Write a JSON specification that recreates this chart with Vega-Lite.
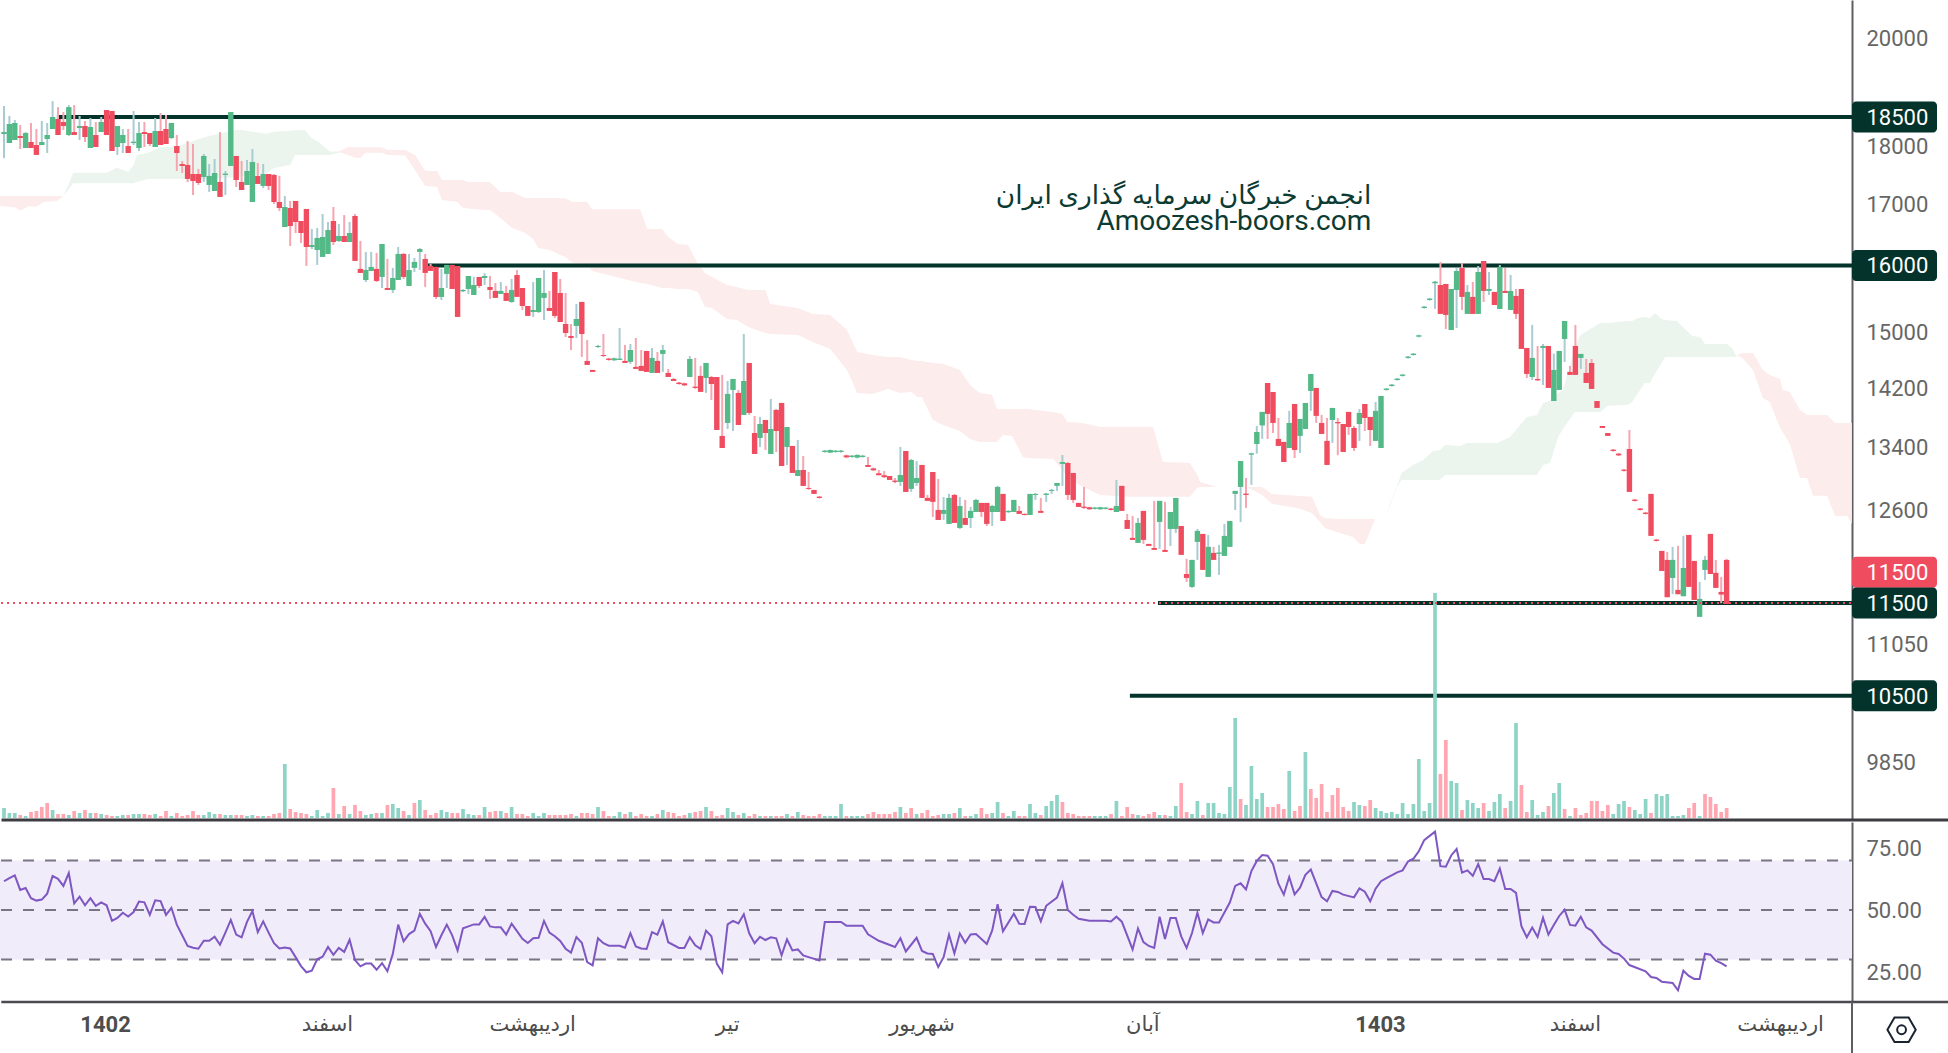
{"$schema":"https://vega.github.io/schema/vega-lite/v6.json","padding":{"left":-1,"top":0,"right":0,"bottom":0},"autosize":{"type":"pad"},"background":"#ffffff","config":{"view":{"stroke":null},"font":"Roboto"},"spacing":-1.5,"datasets":{
"candles":[
{"i":0,"o":18195,"h":18700,"l":17770,"c":18230,"v":10},{"i":1,"o":18035,"h":18518,"l":18035,"c":18374,"v":5},{"i":2,"o":18088,"h":18446,"l":18088,"c":18392,"v":5},{"i":3,"o":18159,"h":18356,"l":17930,"c":18124,"v":3},{"i":4,"o":17947,"h":18230,"l":17947,"c":18212,"v":2},{"i":5,"o":18053,"h":18392,"l":17947,"c":17947,"v":6},{"i":6,"o":18000,"h":18284,"l":17826,"c":17826,"v":7},{"i":7,"o":18000,"h":18428,"l":18000,"c":18053,"v":11},{"i":8,"o":18106,"h":18392,"l":17860,"c":18177,"v":15},{"i":9,"o":18284,"h":18790,"l":18284,"c":18500,"v":8},
{"i":10,"o":18464,"h":18680,"l":18177,"c":18177,"v":4},{"i":11,"o":18410,"h":18590,"l":18266,"c":18338,"v":4},{"i":12,"o":18177,"h":18718,"l":18159,"c":18680,"v":3},{"i":13,"o":18230,"h":18718,"l":18177,"c":18177,"v":7},{"i":14,"o":18302,"h":18518,"l":18088,"c":18338,"v":5},{"i":15,"o":18338,"h":18428,"l":18053,"c":18141,"v":8},{"i":16,"o":17947,"h":18482,"l":17947,"c":18320,"v":5},{"i":17,"o":18177,"h":18410,"l":17965,"c":17965,"v":5},{"i":18,"o":18230,"h":18500,"l":18230,"c":18410,"v":4},{"i":19,"o":18627,"h":18627,"l":18177,"c":18177,"v":3},
{"i":20,"o":18609,"h":18609,"l":17895,"c":17895,"v":2},{"i":21,"o":17965,"h":18338,"l":17826,"c":18338,"v":2},{"i":22,"o":18035,"h":18284,"l":17860,"c":18177,"v":3},{"i":23,"o":17982,"h":18284,"l":17860,"c":17860,"v":3},{"i":24,"o":18035,"h":18609,"l":18000,"c":18059,"v":4},{"i":25,"o":17947,"h":18410,"l":17895,"c":18212,"v":4},{"i":26,"o":18230,"h":18410,"l":17965,"c":18195,"v":4},{"i":27,"o":18212,"h":18212,"l":17982,"c":18018,"v":3},{"i":28,"o":17965,"h":18482,"l":17965,"c":18248,"v":4},{"i":29,"o":18248,"h":18572,"l":18000,"c":18000,"v":2},
{"i":30,"o":18284,"h":18536,"l":18018,"c":18018,"v":7},{"i":31,"o":18124,"h":18392,"l":18106,"c":18392,"v":2},{"i":32,"o":17982,"h":18177,"l":17548,"c":17860,"v":5},{"i":33,"o":17669,"h":17721,"l":17514,"c":17635,"v":2},{"i":34,"o":17652,"h":18070,"l":17361,"c":17412,"v":3},{"i":35,"o":17497,"h":18018,"l":17141,"c":17377,"v":7},{"i":36,"o":17497,"h":17583,"l":17310,"c":17344,"v":3},{"i":37,"o":17446,"h":17843,"l":17361,"c":17808,"v":3},{"i":38,"o":17310,"h":17669,"l":17192,"c":17463,"v":6},{"i":39,"o":17208,"h":17756,"l":17208,"c":17514,"v":4},
{"i":40,"o":17361,"h":18230,"l":17108,"c":17108,"v":4},{"i":41,"o":17480,"h":17548,"l":17141,"c":17503,"v":3},{"i":42,"o":17635,"h":18590,"l":17635,"c":18590,"v":3},{"i":43,"o":17808,"h":17808,"l":17276,"c":17394,"v":3},{"i":44,"o":17361,"h":17721,"l":17225,"c":17225,"v":3},{"i":45,"o":17310,"h":17738,"l":17310,"c":17548,"v":2},{"i":46,"o":17024,"h":17930,"l":17024,"c":17704,"v":3},{"i":47,"o":17463,"h":17686,"l":17327,"c":17327,"v":2},{"i":48,"o":17293,"h":17669,"l":17259,"c":17497,"v":2},{"i":49,"o":17497,"h":17497,"l":17225,"c":17293,"v":2},
{"i":50,"o":17480,"h":17497,"l":16991,"c":17024,"v":4},{"i":51,"o":17024,"h":17463,"l":16875,"c":16924,"v":5},{"i":52,"o":16612,"h":17125,"l":16612,"c":16941,"v":54},{"i":53,"o":16924,"h":17041,"l":16306,"c":16628,"v":9},{"i":54,"o":17041,"h":17041,"l":16515,"c":16694,"v":6},{"i":55,"o":16710,"h":16710,"l":16354,"c":16515,"v":5},{"i":56,"o":16908,"h":16908,"l":15992,"c":16290,"v":4},{"i":57,"o":16290,"h":16579,"l":16258,"c":16322,"v":2},{"i":58,"o":16243,"h":16596,"l":16007,"c":16435,"v":8},{"i":59,"o":16133,"h":16825,"l":16133,"c":16451,"v":2},
{"i":60,"o":16180,"h":16694,"l":16180,"c":16564,"v":5},{"i":61,"o":16710,"h":16941,"l":16322,"c":16370,"v":30},{"i":62,"o":16386,"h":16661,"l":16370,"c":16467,"v":4},{"i":63,"o":16467,"h":16808,"l":16370,"c":16370,"v":12},{"i":64,"o":16370,"h":16694,"l":16370,"c":16515,"v":4},{"i":65,"o":16792,"h":16825,"l":16070,"c":16070,"v":13},{"i":66,"o":15945,"h":16386,"l":15882,"c":15882,"v":7},{"i":67,"o":15773,"h":16212,"l":15742,"c":15928,"v":3},{"i":68,"o":15913,"h":16212,"l":15913,"c":15976,"v":4},{"i":69,"o":15945,"h":16196,"l":15742,"c":15758,"v":5},
{"i":70,"o":15820,"h":16338,"l":15650,"c":16338,"v":5},{"i":71,"o":15650,"h":16101,"l":15620,"c":15620,"v":13},{"i":72,"o":15620,"h":15961,"l":15574,"c":15804,"v":14},{"i":73,"o":15773,"h":16290,"l":15773,"c":16180,"v":10},{"i":74,"o":16180,"h":16196,"l":15788,"c":15820,"v":7},{"i":75,"o":15681,"h":16180,"l":15681,"c":15928,"v":3},{"i":76,"o":15961,"h":16117,"l":15898,"c":16054,"v":15},{"i":77,"o":16212,"h":16274,"l":15928,"c":16258,"v":18},{"i":78,"o":16101,"h":16180,"l":15666,"c":15882,"v":8},{"i":79,"o":15992,"h":16023,"l":15913,"c":15913,"v":3},
{"i":80,"o":15976,"h":15976,"l":15483,"c":15513,"v":5},{"i":81,"o":15513,"h":15945,"l":15468,"c":15650,"v":8},{"i":82,"o":15867,"h":16007,"l":15650,"c":16007,"v":6},{"i":83,"o":16007,"h":16007,"l":15635,"c":15635,"v":5},{"i":84,"o":15990,"h":15990,"l":15213,"c":15213,"v":5},{"i":85,"o":15600,"h":15630,"l":15590,"c":15620,"v":9},{"i":86,"o":15635,"h":15835,"l":15557,"c":15835,"v":4},{"i":87,"o":15543,"h":15820,"l":15543,"c":15696,"v":3},{"i":88,"o":15820,"h":15820,"l":15650,"c":15680,"v":3},{"i":89,"o":15804,"h":15880,"l":15696,"c":15835,"v":11},
{"i":90,"o":15665,"h":15835,"l":15484,"c":15620,"v":6},{"i":91,"o":15605,"h":15727,"l":15499,"c":15499,"v":7},{"i":92,"o":15559,"h":15742,"l":15559,"c":15605,"v":7},{"i":93,"o":15574,"h":15680,"l":15453,"c":15453,"v":5},{"i":94,"o":15438,"h":15789,"l":15423,"c":15620,"v":11},{"i":95,"o":15850,"h":15928,"l":15514,"c":15514,"v":4},{"i":96,"o":15650,"h":15650,"l":15317,"c":15377,"v":4},{"i":97,"o":15377,"h":15377,"l":15228,"c":15228,"v":2},{"i":98,"o":15287,"h":15742,"l":15213,"c":15317,"v":5},{"i":99,"o":15287,"h":15804,"l":15272,"c":15804,"v":2},
{"i":100,"o":15499,"h":15928,"l":15168,"c":15574,"v":5},{"i":101,"o":15347,"h":15605,"l":15302,"c":15302,"v":3},{"i":102,"o":15897,"h":15897,"l":15198,"c":15228,"v":3},{"i":103,"o":15574,"h":15789,"l":15138,"c":15138,"v":3},{"i":104,"o":15109,"h":15574,"l":14917,"c":14976,"v":3},{"i":105,"o":14932,"h":15109,"l":14729,"c":14903,"v":4},{"i":106,"o":15079,"h":15407,"l":14903,"c":15183,"v":2},{"i":107,"o":15438,"h":15438,"l":14629,"c":14961,"v":5},{"i":108,"o":14572,"h":14874,"l":14515,"c":14515,"v":5},{"i":109,"o":14444,"h":14444,"l":14416,"c":14416,"v":4},
{"i":110,"o":14772,"h":14802,"l":14758,"c":14787,"v":11},{"i":111,"o":14657,"h":14961,"l":14629,"c":14643,"v":7},{"i":112,"o":14605,"h":14615,"l":14576,"c":14586,"v":2},{"i":113,"o":14581,"h":14620,"l":14572,"c":14610,"v":2},{"i":114,"o":14586,"h":15049,"l":14586,"c":14605,"v":6},{"i":115,"o":14572,"h":14802,"l":14543,"c":14543,"v":4},{"i":116,"o":14558,"h":14816,"l":14529,"c":14729,"v":6},{"i":117,"o":14487,"h":14903,"l":14458,"c":14458,"v":2},{"i":118,"o":14501,"h":14729,"l":14430,"c":14430,"v":4},{"i":119,"o":14715,"h":14715,"l":14416,"c":14416,"v":2},
{"i":120,"o":14402,"h":14758,"l":14402,"c":14615,"v":2},{"i":121,"o":14572,"h":14700,"l":14402,"c":14402,"v":4},{"i":122,"o":14672,"h":14802,"l":14416,"c":14729,"v":8},{"i":123,"o":14402,"h":14458,"l":14345,"c":14345,"v":6},{"i":124,"o":14317,"h":14331,"l":14289,"c":14289,"v":5},{"i":125,"o":14266,"h":14275,"l":14238,"c":14247,"v":2},{"i":126,"o":14256,"h":14266,"l":14219,"c":14228,"v":3},{"i":127,"o":14345,"h":14643,"l":14345,"c":14600,"v":5},{"i":128,"o":14210,"h":14615,"l":14178,"c":14192,"v":6},{"i":129,"o":14360,"h":14501,"l":14137,"c":14137,"v":7},
{"i":130,"o":14331,"h":14543,"l":14123,"c":14543,"v":11},{"i":131,"o":14345,"h":14360,"l":14026,"c":14247,"v":7},{"i":132,"o":14345,"h":14345,"l":13620,"c":13620,"v":2},{"i":133,"o":13541,"h":14374,"l":13382,"c":13382,"v":3},{"i":134,"o":13714,"h":14289,"l":13633,"c":14109,"v":10},{"i":135,"o":14164,"h":14317,"l":13606,"c":14317,"v":6},{"i":136,"o":14123,"h":14164,"l":13687,"c":13687,"v":3},{"i":137,"o":13822,"h":14961,"l":13822,"c":14289,"v":5},{"i":138,"o":14543,"h":14543,"l":13822,"c":13849,"v":2},{"i":139,"o":13580,"h":13808,"l":13304,"c":13304,"v":4},
{"i":140,"o":13514,"h":13795,"l":13396,"c":13700,"v":2},{"i":141,"o":13754,"h":13754,"l":13356,"c":13580,"v":2},{"i":142,"o":13304,"h":14040,"l":13304,"c":13633,"v":2},{"i":143,"o":13890,"h":13903,"l":13330,"c":13606,"v":2},{"i":144,"o":13985,"h":13985,"l":13148,"c":13148,"v":2},{"i":145,"o":13396,"h":13660,"l":13161,"c":13660,"v":4},{"i":146,"o":13409,"h":13409,"l":13059,"c":13059,"v":2},{"i":147,"o":13020,"h":13488,"l":13020,"c":13097,"v":6},{"i":148,"o":13097,"h":13278,"l":12894,"c":12894,"v":3},{"i":149,"o":12869,"h":13072,"l":12844,"c":12857,"v":2},
{"i":150,"o":12844,"h":12844,"l":12794,"c":12794,"v":2},{"i":151,"o":12760,"h":12769,"l":12735,"c":12744,"v":4},{"i":152,"o":13330,"h":13356,"l":13321,"c":13347,"v":2},{"i":153,"o":13321,"h":13362,"l":13315,"c":13356,"v":2},{"i":154,"o":13330,"h":13356,"l":13321,"c":13347,"v":2},{"i":155,"o":13330,"h":13356,"l":13321,"c":13347,"v":14},{"i":156,"o":13286,"h":13295,"l":13250,"c":13260,"v":2},{"i":157,"o":13265,"h":13291,"l":13256,"c":13282,"v":2},{"i":158,"o":13256,"h":13300,"l":13248,"c":13291,"v":2},{"i":159,"o":13265,"h":13291,"l":13256,"c":13282,"v":2},
{"i":160,"o":13161,"h":13265,"l":13136,"c":13136,"v":4},{"i":161,"o":13118,"h":13128,"l":13085,"c":13093,"v":6},{"i":162,"o":13055,"h":13097,"l":13030,"c":13030,"v":4},{"i":163,"o":13030,"h":13085,"l":12997,"c":13005,"v":4},{"i":164,"o":13020,"h":13020,"l":12970,"c":12970,"v":4},{"i":165,"o":12962,"h":12995,"l":12928,"c":12945,"v":6},{"i":166,"o":12945,"h":13396,"l":12894,"c":13033,"v":11},{"i":167,"o":13343,"h":13343,"l":12819,"c":12819,"v":5},{"i":168,"o":12857,"h":13239,"l":12819,"c":13226,"v":10},{"i":169,"o":12932,"h":13213,"l":12895,"c":12995,"v":4},
{"i":170,"o":13162,"h":13162,"l":12744,"c":12744,"v":5},{"i":171,"o":12744,"h":12781,"l":12707,"c":12707,"v":8},{"i":172,"o":13071,"h":13071,"l":12508,"c":12695,"v":2},{"i":173,"o":12595,"h":12983,"l":12472,"c":12472,"v":3},{"i":174,"o":12546,"h":12756,"l":12472,"c":12595,"v":4},{"i":175,"o":12424,"h":12794,"l":12424,"c":12744,"v":4},{"i":176,"o":12781,"h":12794,"l":12436,"c":12436,"v":5},{"i":177,"o":12375,"h":12756,"l":12363,"c":12644,"v":10},{"i":178,"o":12496,"h":12719,"l":12412,"c":12412,"v":2},{"i":179,"o":12496,"h":12632,"l":12375,"c":12583,"v":2},
{"i":180,"o":12570,"h":12732,"l":12570,"c":12719,"v":4},{"i":181,"o":12682,"h":12682,"l":12508,"c":12570,"v":10},{"i":182,"o":12682,"h":12682,"l":12399,"c":12424,"v":4},{"i":183,"o":12570,"h":12657,"l":12399,"c":12644,"v":5},{"i":184,"o":12570,"h":12895,"l":12570,"c":12882,"v":16},{"i":185,"o":12794,"h":12794,"l":12460,"c":12460,"v":5},{"i":186,"o":12567,"h":12591,"l":12559,"c":12583,"v":2},{"i":187,"o":12570,"h":12719,"l":12570,"c":12719,"v":7},{"i":188,"o":12583,"h":12644,"l":12546,"c":12546,"v":2},{"i":189,"o":12546,"h":12552,"l":12527,"c":12533,"v":2},
{"i":190,"o":12533,"h":12794,"l":12533,"c":12794,"v":14},{"i":191,"o":12781,"h":12806,"l":12719,"c":12794,"v":5},{"i":192,"o":12583,"h":12744,"l":12559,"c":12559,"v":3},{"i":193,"o":12781,"h":12806,"l":12695,"c":12798,"v":12},{"i":194,"o":12832,"h":12857,"l":12794,"c":12844,"v":17},{"i":195,"o":12895,"h":12932,"l":12832,"c":12932,"v":23},{"i":196,"o":13175,"h":13291,"l":12895,"c":13200,"v":16},{"i":197,"o":13187,"h":13200,"l":12719,"c":12781,"v":5},{"i":198,"o":13059,"h":13059,"l":12682,"c":12719,"v":4},{"i":199,"o":12682,"h":12682,"l":12632,"c":12632,"v":2},
{"i":200,"o":12636,"h":12882,"l":12608,"c":12620,"v":2},{"i":201,"o":12628,"h":12634,"l":12597,"c":12603,"v":2},{"i":202,"o":12608,"h":12632,"l":12600,"c":12624,"v":2},{"i":203,"o":12603,"h":12634,"l":12597,"c":12628,"v":2},{"i":204,"o":12608,"h":12632,"l":12600,"c":12624,"v":2},{"i":205,"o":12612,"h":12620,"l":12588,"c":12595,"v":4},{"i":206,"o":12570,"h":12970,"l":12570,"c":12644,"v":17},{"i":207,"o":12895,"h":12895,"l":12583,"c":12583,"v":2},{"i":208,"o":12472,"h":12546,"l":12363,"c":12363,"v":11},{"i":209,"o":12255,"h":12521,"l":12231,"c":12231,"v":4},
{"i":210,"o":12195,"h":12496,"l":12195,"c":12436,"v":3},{"i":211,"o":12583,"h":12583,"l":12183,"c":12231,"v":2},{"i":212,"o":12183,"h":12183,"l":12159,"c":12159,"v":4},{"i":213,"o":12135,"h":12707,"l":12112,"c":12112,"v":6},{"i":214,"o":12448,"h":12707,"l":12124,"c":12707,"v":3},{"i":215,"o":12112,"h":12695,"l":12088,"c":12088,"v":3},{"i":216,"o":12363,"h":12570,"l":12159,"c":12570,"v":2},{"i":217,"o":12363,"h":12744,"l":12315,"c":12744,"v":12},{"i":218,"o":12399,"h":12399,"l":12053,"c":12053,"v":35},{"i":219,"o":11830,"h":12006,"l":11738,"c":11784,"v":6},
{"i":220,"o":11681,"h":11994,"l":11670,"c":11994,"v":4},{"i":221,"o":12207,"h":12363,"l":11994,"c":12339,"v":17},{"i":222,"o":12303,"h":12303,"l":11877,"c":11877,"v":3},{"i":223,"o":11796,"h":12291,"l":11796,"c":12148,"v":15},{"i":224,"o":12077,"h":12148,"l":11994,"c":11994,"v":15},{"i":225,"o":12065,"h":12172,"l":11819,"c":12081,"v":5},{"i":226,"o":12041,"h":12424,"l":12041,"c":12279,"v":4},{"i":227,"o":12148,"h":12460,"l":12148,"c":12460,"v":31},{"i":228,"o":12794,"h":12832,"l":12595,"c":12832,"v":100},{"i":229,"o":12882,"h":13213,"l":12448,"c":13213,"v":19},
{"i":230,"o":12798,"h":12995,"l":12620,"c":12781,"v":13},{"i":231,"o":13295,"h":13321,"l":12907,"c":13312,"v":52},{"i":232,"o":13435,"h":13673,"l":13308,"c":13593,"v":19},{"i":233,"o":13681,"h":13863,"l":13501,"c":13863,"v":25},{"i":234,"o":14261,"h":14261,"l":13501,"c":13836,"v":11},{"i":235,"o":14136,"h":14136,"l":13580,"c":13714,"v":11},{"i":236,"o":13501,"h":13781,"l":13409,"c":13409,"v":14},{"i":237,"o":13462,"h":13462,"l":13200,"c":13200,"v":9},{"i":238,"o":13382,"h":13877,"l":13382,"c":13714,"v":47},{"i":239,"o":13971,"h":13971,"l":13252,"c":13356,"v":7},
{"i":240,"o":13541,"h":13768,"l":13317,"c":13768,"v":12},{"i":241,"o":13633,"h":13985,"l":13633,"c":13985,"v":66},{"i":242,"o":14150,"h":14387,"l":13877,"c":14387,"v":29},{"i":243,"o":14192,"h":14192,"l":13714,"c":13809,"v":20},{"i":244,"o":13714,"h":13822,"l":13567,"c":13567,"v":34},{"i":245,"o":13475,"h":13781,"l":13162,"c":13162,"v":6},{"i":246,"o":13754,"h":13917,"l":13449,"c":13917,"v":23},{"i":247,"o":13727,"h":13781,"l":13287,"c":13709,"v":30},{"i":248,"o":13700,"h":13700,"l":13330,"c":13330,"v":11},{"i":249,"o":13863,"h":13863,"l":13554,"c":13660,"v":7},
{"i":250,"o":13647,"h":13673,"l":13343,"c":13382,"v":16},{"i":251,"o":13700,"h":13903,"l":13475,"c":13849,"v":13},{"i":252,"o":13971,"h":13971,"l":13606,"c":13781,"v":12},{"i":253,"o":13795,"h":13795,"l":13409,"c":13620,"v":18},{"i":254,"o":13475,"h":13999,"l":13475,"c":13877,"v":10},{"i":255,"o":13382,"h":14081,"l":13382,"c":14081,"v":7},{"i":256,"o":14164,"h":14192,"l":14155,"c":14183,"v":5},{"i":257,"o":14219,"h":14247,"l":14210,"c":14238,"v":6},{"i":258,"o":14303,"h":14331,"l":14294,"c":14322,"v":4},{"i":259,"o":14360,"h":14388,"l":14351,"c":14379,"v":15},
{"i":260,"o":14615,"h":14643,"l":14605,"c":14634,"v":4},{"i":261,"o":14657,"h":14686,"l":14648,"c":14676,"v":14},{"i":262,"o":14922,"h":14951,"l":14912,"c":14942,"v":59},{"i":263,"o":15347,"h":15377,"l":15337,"c":15367,"v":7},{"i":264,"o":15468,"h":15499,"l":15458,"c":15489,"v":15},{"i":265,"o":15722,"h":15758,"l":15332,"c":15747,"v":225},{"i":266,"o":15696,"h":16054,"l":15258,"c":15258,"v":44},{"i":267,"o":15712,"h":15712,"l":15035,"c":15243,"v":78},{"i":268,"o":15020,"h":15635,"l":15020,"c":15635,"v":37},{"i":269,"o":15620,"h":15959,"l":15050,"c":15912,"v":35},
{"i":270,"o":15959,"h":16037,"l":15317,"c":15514,"v":8},{"i":271,"o":15258,"h":15696,"l":15258,"c":15590,"v":18},{"i":272,"o":15514,"h":15742,"l":15258,"c":15258,"v":15},{"i":273,"o":15258,"h":15990,"l":15258,"c":15897,"v":10},{"i":274,"o":16069,"h":16069,"l":15438,"c":15605,"v":15},{"i":275,"o":15605,"h":15897,"l":15543,"c":15635,"v":7},{"i":276,"o":15590,"h":15590,"l":15392,"c":15392,"v":16},{"i":277,"o":15332,"h":16006,"l":15332,"c":15975,"v":24},{"i":278,"o":15605,"h":15959,"l":15574,"c":15574,"v":10},{"i":279,"o":15317,"h":15850,"l":15317,"c":15605,"v":17},
{"i":280,"o":15529,"h":15635,"l":15183,"c":15258,"v":95},{"i":281,"o":15635,"h":15635,"l":14744,"c":14744,"v":33},{"i":282,"o":14758,"h":14758,"l":14331,"c":14388,"v":6},{"i":283,"o":14345,"h":15094,"l":14303,"c":14615,"v":18},{"i":284,"o":14317,"h":14787,"l":14289,"c":14298,"v":3},{"i":285,"o":14758,"h":14816,"l":14233,"c":14787,"v":6},{"i":286,"o":14787,"h":14787,"l":14192,"c":14192,"v":12},{"i":287,"o":14012,"h":14676,"l":14012,"c":14444,"v":25},{"i":288,"o":14164,"h":14715,"l":14164,"c":14715,"v":35},{"i":289,"o":14888,"h":15153,"l":14557,"c":15153,"v":9},
{"i":290,"o":14416,"h":14501,"l":14374,"c":14374,"v":2},{"i":291,"o":14787,"h":15094,"l":14374,"c":14374,"v":10},{"i":292,"o":14615,"h":14672,"l":14458,"c":14672,"v":3},{"i":293,"o":14402,"h":14600,"l":14261,"c":14261,"v":5},{"i":294,"o":14543,"h":14600,"l":14178,"c":14178,"v":17},{"i":295,"o":14012,"h":14012,"l":13917,"c":13917,"v":17},{"i":296,"o":13673,"h":13673,"l":13647,"c":13647,"v":7},{"i":297,"o":13580,"h":13580,"l":13541,"c":13541,"v":13},{"i":298,"o":13360,"h":13370,"l":13335,"c":13343,"v":4},{"i":299,"o":13308,"h":13318,"l":13278,"c":13286,"v":14},
{"i":300,"o":13101,"h":13110,"l":13077,"c":13085,"v":17},{"i":301,"o":13369,"h":13620,"l":12819,"c":12819,"v":11},{"i":302,"o":12723,"h":12732,"l":12699,"c":12707,"v":8},{"i":303,"o":12612,"h":12620,"l":12587,"c":12595,"v":4},{"i":304,"o":12562,"h":12570,"l":12538,"c":12546,"v":19},{"i":305,"o":12794,"h":12794,"l":12279,"c":12279,"v":5},{"i":306,"o":12235,"h":12243,"l":12211,"c":12219,"v":24},{"i":307,"o":12100,"h":12100,"l":11865,"c":11865,"v":22},{"i":308,"o":11994,"h":12088,"l":11564,"c":11564,"v":24},{"i":309,"o":11784,"h":12148,"l":11598,"c":11994,"v":2},
{"i":310,"o":11647,"h":12160,"l":11598,"c":11598,"v":2},{"i":311,"o":11575,"h":12279,"l":11575,"c":11900,"v":3},{"i":312,"o":12291,"h":12291,"l":11681,"c":11681,"v":10},{"i":313,"o":11982,"h":11982,"l":11533,"c":11533,"v":15},{"i":314,"o":11344,"h":11738,"l":11344,"c":11545,"v":2},{"i":315,"o":11877,"h":12041,"l":11761,"c":11994,"v":24},{"i":316,"o":12303,"h":12303,"l":11830,"c":11830,"v":21},{"i":317,"o":11843,"h":11994,"l":11670,"c":11670,"v":14},{"i":318,"o":11624,"h":11796,"l":11496,"c":11594,"v":6},{"i":319,"o":11994,"h":12006,"l":11488,"c":11488,"v":10}
],
"cloud":[
{"p":1,"k":"r","i":-0.74,"t":17125,"b":16958},{"p":1,"k":"r","i":2,"t":17125,"b":16935},{"p":1,"k":"r","i":3,"t":17125,"b":16880},{"p":1,"k":"r","i":4.5,"t":17125,"b":16947},{"p":1,"k":"r","i":6,"t":17125,"b":16947},{"p":1,"k":"r","i":7.3,"t":17125,"b":17024},{"p":1,"k":"r","i":9.8,"t":17125,"b":17041},{"p":1,"k":"r","i":11,"t":17125,"b":17125},
{"p":2,"k":"g","i":11,"t":17125,"b":17125},{"p":2,"k":"g","i":11.9,"t":17310,"b":17225},{"p":2,"k":"g","i":12.8,"t":17520,"b":17338},{"p":2,"k":"g","i":19,"t":17520,"b":17338},{"p":2,"k":"g","i":20.9,"t":17606,"b":17338},{"p":2,"k":"g","i":23,"t":17531,"b":17338},{"p":2,"k":"g","i":24,"t":17652,"b":17338},{"p":2,"k":"g","i":24.6,"t":17826,"b":17361},{"p":2,"k":"g","i":26.7,"t":17866,"b":17412},{"p":2,"k":"g","i":28.9,"t":17959,"b":17412},{"p":2,"k":"g","i":32,"t":17971,"b":17412},{"p":2,"k":"g","i":35,"t":18070,"b":17412},{"p":2,"k":"g","i":38.1,"t":18165,"b":17412},{"p":2,"k":"g","i":40.3,"t":18207,"b":17424},{"p":2,"k":"g","i":42.5,"t":18266,"b":17441},{"p":2,"k":"g","i":44,"t":18266,"b":17452},{"p":2,"k":"g","i":48.6,"t":18201,"b":17508},{"p":2,"k":"g","i":49.9,"t":18236,"b":17594},{"p":2,"k":"g","i":53,"t":18254,"b":17652},{"p":2,"k":"g","i":53.9,"t":18260,"b":17826},{"p":2,"k":"g","i":55.7,"t":18266,"b":17826},{"p":2,"k":"g","i":57,"t":18118,"b":17826},{"p":2,"k":"g","i":58.2,"t":18059,"b":17826},{"p":2,"k":"g","i":60.4,"t":17884,"b":17826},{"p":2,"k":"g","i":62.8,"t":17884,"b":17884},
{"p":3,"k":"r","i":61.9,"t":17882,"b":17882},{"p":3,"k":"r","i":63.7,"t":17965,"b":17824},{"p":3,"k":"r","i":65,"t":17959,"b":17777},{"p":3,"k":"r","i":66,"t":17959,"b":17777},{"p":3,"k":"r","i":66.9,"t":17959,"b":17864},{"p":3,"k":"r","i":70,"t":17959,"b":17864},{"p":3,"k":"r","i":71,"t":17912,"b":17824},{"p":3,"k":"r","i":74.3,"t":17912,"b":17814},{"p":3,"k":"r","i":76.1,"t":17824,"b":17565},{"p":3,"k":"r","i":78,"t":17548,"b":17291},{"p":3,"k":"r","i":80.2,"t":17548,"b":17274},{"p":3,"k":"r","i":81.1,"t":17394,"b":17057},{"p":3,"k":"r","i":83.9,"t":17394,"b":17024},{"p":3,"k":"r","i":85,"t":17394,"b":16930},{"p":3,"k":"r","i":85.9,"t":17360,"b":16916},{"p":3,"k":"r","i":89.1,"t":17360,"b":16891},{"p":3,"k":"r","i":90,"t":17360,"b":16891},{"p":3,"k":"r","i":91.9,"t":17191,"b":16760},{"p":3,"k":"r","i":94.1,"t":17191,"b":16596},{"p":3,"k":"r","i":96.5,"t":17090,"b":16517},{"p":3,"k":"r","i":98,"t":17090,"b":16419},{"p":3,"k":"r","i":98.9,"t":17090,"b":16275},{"p":3,"k":"r","i":101.1,"t":17090,"b":16243},{"p":3,"k":"r","i":103.9,"t":17085,"b":16132},{"p":3,"k":"r","i":105.4,"t":17024,"b":16038},{"p":3,"k":"r","i":108,"t":17024,"b":16022},{"p":3,"k":"r","i":108.9,"t":16905,"b":15912},{"p":3,"k":"r","i":117.8,"t":16905,"b":15726},{"p":3,"k":"r","i":119.1,"t":16580,"b":15710},{"p":3,"k":"r","i":121.9,"t":16580,"b":15650},{"p":3,"k":"r","i":123,"t":16451,"b":15650},{"p":3,"k":"r","i":124.8,"t":16339,"b":15635},{"p":3,"k":"r","i":126.7,"t":16323,"b":15635},{"p":3,"k":"r","i":128.5,"t":16022,"b":15590},{"p":3,"k":"r","i":129.8,"t":15881,"b":15360},{"p":3,"k":"r","i":131.1,"t":15819,"b":15347},{"p":3,"k":"r","i":133.9,"t":15695,"b":15183},{"p":3,"k":"r","i":135.7,"t":15665,"b":15168},{"p":3,"k":"r","i":137.8,"t":15620,"b":15065},{"p":3,"k":"r","i":141,"t":15620,"b":14976},{"p":3,"k":"r","i":141.9,"t":15408,"b":14961},{"p":3,"k":"r","i":147,"t":15347,"b":14947},{"p":3,"k":"r","i":149.8,"t":15257,"b":14845},{"p":3,"k":"r","i":153,"t":15242,"b":14744},{"p":3,"k":"r","i":156.1,"t":15020,"b":14444},{"p":3,"k":"r","i":158,"t":14700,"b":14123},{"p":3,"k":"r","i":160.9,"t":14657,"b":14109},{"p":3,"k":"r","i":163.7,"t":14629,"b":14178},{"p":3,"k":"r","i":165.9,"t":14629,"b":14123},{"p":3,"k":"r","i":168.1,"t":14586,"b":14137},{"p":3,"k":"r","i":169.1,"t":14572,"b":14068},{"p":3,"k":"r","i":170,"t":14572,"b":14068},{"p":3,"k":"r","i":172,"t":14543,"b":13754},{"p":3,"k":"r","i":173.9,"t":14530,"b":13687},{"p":3,"k":"r","i":177,"t":14444,"b":13607},{"p":3,"k":"r","i":178.9,"t":14234,"b":13501},{"p":3,"k":"r","i":180.7,"t":14123,"b":13461},{"p":3,"k":"r","i":182.96,"t":14096,"b":13461},{"p":3,"k":"r","i":183.9,"t":13904,"b":13461},{"p":3,"k":"r","i":185,"t":13904,"b":13554},{"p":3,"k":"r","i":186.7,"t":13904,"b":13541},{"p":3,"k":"r","i":188.7,"t":13904,"b":13265},{"p":3,"k":"r","i":189.6,"t":13904,"b":13252},{"p":3,"k":"r","i":194.3,"t":13863,"b":13239},{"p":3,"k":"r","i":196,"t":13835,"b":13097},{"p":3,"k":"r","i":196.9,"t":13727,"b":12995},{"p":3,"k":"r","i":199.8,"t":13713,"b":12882},{"p":3,"k":"r","i":203,"t":13660,"b":12781},{"p":3,"k":"r","i":208.5,"t":13660,"b":12757},{"p":3,"k":"r","i":212.8,"t":13660,"b":12757},{"p":3,"k":"r","i":214.6,"t":13200,"b":12757},{"p":3,"k":"r","i":217.8,"t":13194,"b":12757},{"p":3,"k":"r","i":219.6,"t":13187,"b":12757},{"p":3,"k":"r","i":221,"t":13033,"b":12870},{"p":3,"k":"r","i":221.5,"t":12945,"b":12882},{"p":3,"k":"r","i":224.6,"t":12882,"b":12882},
{"p":4,"k":"r","i":230.2,"t":12882,"b":12882},{"p":4,"k":"r","i":233,"t":12882,"b":12781},{"p":4,"k":"r","i":234.8,"t":12794,"b":12670},{"p":4,"k":"r","i":239.4,"t":12770,"b":12620},{"p":4,"k":"r","i":242.2,"t":12757,"b":12558},{"p":4,"k":"r","i":243.7,"t":12533,"b":12448},{"p":4,"k":"r","i":244.6,"t":12496,"b":12375},{"p":4,"k":"r","i":247.4,"t":12484,"b":12315},{"p":4,"k":"r","i":249.8,"t":12484,"b":12267},{"p":4,"k":"r","i":251.1,"t":12484,"b":12183},{"p":4,"k":"r","i":252,"t":12484,"b":12183},{"p":4,"k":"r","i":253.9,"t":12484,"b":12484},
{"p":5,"k":"g","i":253.9,"t":12484,"b":12484},{"p":5,"k":"g","i":255.7,"t":12484,"b":12484},{"p":5,"k":"g","i":256.7,"t":12682,"b":12657},{"p":5,"k":"g","i":257.9,"t":12882,"b":12870},{"p":5,"k":"g","i":258.8,"t":13058,"b":12970},{"p":5,"k":"g","i":260.9,"t":13161,"b":12970},{"p":5,"k":"g","i":262.8,"t":13226,"b":12970},{"p":5,"k":"g","i":264.6,"t":13343,"b":12970},{"p":5,"k":"g","i":265.9,"t":13356,"b":12970},{"p":5,"k":"g","i":266.9,"t":13422,"b":13033},{"p":5,"k":"g","i":269.6,"t":13409,"b":13033},{"p":5,"k":"g","i":270.9,"t":13448,"b":13033},{"p":5,"k":"g","i":276.5,"t":13448,"b":13033},{"p":5,"k":"g","i":278.9,"t":13528,"b":13033},{"p":5,"k":"g","i":282,"t":13795,"b":13033},{"p":5,"k":"g","i":283.9,"t":13822,"b":13033},{"p":5,"k":"g","i":285,"t":13985,"b":13161},{"p":5,"k":"g","i":286.3,"t":14012,"b":13187},{"p":5,"k":"g","i":287.8,"t":14123,"b":13528},{"p":5,"k":"g","i":288.7,"t":14164,"b":13634},{"p":5,"k":"g","i":290.9,"t":14773,"b":13863},{"p":5,"k":"g","i":291.9,"t":14947,"b":13863},{"p":5,"k":"g","i":295.6,"t":15124,"b":13863},{"p":5,"k":"g","i":297,"t":15124,"b":13945},{"p":5,"k":"g","i":300.7,"t":15153,"b":13959},{"p":5,"k":"g","i":301.5,"t":15153,"b":13999},{"p":5,"k":"g","i":302.6,"t":15198,"b":14123},{"p":5,"k":"g","i":303.9,"t":15213,"b":14262},{"p":5,"k":"g","i":304.8,"t":15198,"b":14262},{"p":5,"k":"g","i":305.7,"t":15273,"b":14388},{"p":5,"k":"g","i":307,"t":15183,"b":14544},{"p":5,"k":"g","i":307.6,"t":15168,"b":14629},{"p":5,"k":"g","i":309.8,"t":15153,"b":14629},{"p":5,"k":"g","i":312.6,"t":14932,"b":14629},{"p":5,"k":"g","i":314.1,"t":14917,"b":14629},{"p":5,"k":"g","i":315,"t":14817,"b":14629},{"p":5,"k":"g","i":319.1,"t":14817,"b":14629},{"p":5,"k":"g","i":320,"t":14758,"b":14629},{"p":5,"k":"g","i":320.9,"t":14629,"b":14629},
{"p":6,"k":"r","i":320.9,"t":14658,"b":14658},{"p":6,"k":"r","i":321.9,"t":14687,"b":14615},{"p":6,"k":"r","i":323.9,"t":14687,"b":14444},{"p":6,"k":"r","i":325.7,"t":14444,"b":14053},{"p":6,"k":"r","i":327,"t":14374,"b":13999},{"p":6,"k":"r","i":328.9,"t":14317,"b":13647},{"p":6,"k":"r","i":329.4,"t":14164,"b":13593},{"p":6,"k":"r","i":330.7,"t":14136,"b":13435},{"p":6,"k":"r","i":332.6,"t":13890,"b":12995},{"p":6,"k":"r","i":333.9,"t":13822,"b":12995},{"p":6,"k":"r","i":335,"t":13822,"b":12770},{"p":6,"k":"r","i":337.6,"t":13822,"b":12770},{"p":6,"k":"r","i":339.1,"t":13713,"b":12521},{"p":6,"k":"r","i":341.3,"t":13713,"b":12521},{"p":6,"k":"r","i":342.2,"t":13713,"b":12423}
],
"rsi":[
{"i":0,"r":61.6},{"i":1,"r":62.9},{"i":2,"r":64},{"i":3,"r":58.1},{"i":4,"r":58.9},{"i":5,"r":54.8},{"i":6,"r":53.8},{"i":7,"r":54.2},{"i":8,"r":56.6},{"i":9,"r":63.7},{"i":10,"r":62.6},{"i":11,"r":59.7},{"i":12,"r":64.9},{"i":13,"r":52.7},{"i":14,"r":55.4},{"i":15,"r":51.9},{"i":16,"r":54.8},{"i":17,"r":51.7},{"i":18,"r":53.1},{"i":19,"r":51.9},{"i":20,"r":45.6},{"i":21,"r":46.8},{"i":22,"r":48.9},{"i":23,"r":47.4},{"i":24,"r":49.2},{"i":25,"r":53.4},{"i":26,"r":53.1},{"i":27,"r":48.1},{"i":28,"r":53.9},{"i":29,"r":53.6},{"i":30,"r":48},{"i":31,"r":50.9},{"i":32,"r":44.1},{"i":33,"r":39.8},{"i":34,"r":35.5},{"i":35,"r":34.8},{"i":36,"r":34.4},{"i":37,"r":37.6},{"i":38,"r":37.6},{"i":39,"r":39.2},{"i":40,"r":36},{"i":41,"r":40.9},{"i":42,"r":46},{"i":43,"r":40.1},{"i":44,"r":39},{"i":45,"r":45.2},{"i":46,"r":49.6},{"i":47,"r":41.1},{"i":48,"r":45.4},{"i":49,"r":40.9},{"i":50,"r":36.6},{"i":51,"r":34.5},{"i":52,"r":34.9},{"i":53,"r":34.5},{"i":54,"r":31},{"i":55,"r":27.4},{"i":56,"r":24.9},{"i":57,"r":25.5},{"i":58,"r":30.1},{"i":59,"r":31.2},{"i":60,"r":35.1},{"i":61,"r":31.9},{"i":62,"r":34.7},{"i":63,"r":33.1},{"i":64,"r":38},{"i":65,"r":29.8},{"i":66,"r":27.3},{"i":67,"r":28.4},{"i":68,"r":28.4},{"i":69,"r":25.9},{"i":70,"r":28.6},{"i":71,"r":25.3},{"i":72,"r":32.3},{"i":73,"r":44.1},{"i":74,"r":37.4},{"i":75,"r":40.3},{"i":76,"r":41.7},{"i":77,"r":48.5},{"i":78,"r":44.5},{"i":79,"r":41.5},{"i":80,"r":35.1},{"i":81,"r":39.8},{"i":82,"r":44.1},{"i":83,"r":39.8},{"i":84,"r":33.7},{"i":85,"r":42.6},{"i":86,"r":43.4},{"i":87,"r":44.2},{"i":88,"r":44.2},{"i":89,"r":47.2},{"i":90,"r":43.4},{"i":91,"r":43},{"i":92,"r":43},{"i":93,"r":40.1},{"i":94,"r":44.5},{"i":95,"r":41.5},{"i":96,"r":38.4},{"i":97,"r":36.7},{"i":98,"r":38.6},{"i":99,"r":38.8},{"i":100,"r":45.6},{"i":101,"r":40.9},{"i":102,"r":39.4},{"i":103,"r":37.5},{"i":104,"r":34.4},{"i":105,"r":32.8},{"i":106,"r":39.1},{"i":107,"r":36.8},{"i":108,"r":29},{"i":109,"r":27.7},{"i":110,"r":38.6},{"i":111,"r":36.6},{"i":112,"r":35.6},{"i":113,"r":35.6},{"i":114,"r":35.6},{"i":115,"r":34.8},{"i":116,"r":40.6},{"i":117,"r":35.3},{"i":118,"r":34.5},{"i":119,"r":34.3},{"i":120,"r":41.1},{"i":121,"r":40.1},{"i":122,"r":45.4},{"i":123,"r":37},{"i":125,"r":34.7},{"i":126,"r":34.7},{"i":127,"r":39},{"i":128,"r":35.8},{"i":129,"r":34.3},{"i":130,"r":41.7},{"i":131,"r":39.4},{"i":132,"r":28.4},{"i":133,"r":24.9},{"i":134,"r":44.2},{"i":135,"r":45.6},{"i":136,"r":44.6},{"i":137,"r":48.3},{"i":138,"r":40.6},{"i":139,"r":36.6},{"i":140,"r":39.2},{"i":141,"r":37.9},{"i":142,"r":39},{"i":143,"r":38.6},{"i":144,"r":31.7},{"i":145,"r":38.2},{"i":146,"r":33.7},{"i":147,"r":34.1},{"i":148,"r":31.7},{"i":149,"r":31},{"i":151,"r":29.7},{"i":152,"r":45.2},{"i":155,"r":45.2},{"i":156,"r":43.7},{"i":159,"r":43.7},{"i":160,"r":40.2},{"i":162,"r":37.6},{"i":165,"r":35.1},{"i":166,"r":38.6},{"i":167,"r":33.3},{"i":169,"r":38.8},{"i":170,"r":33.5},{"i":171,"r":32.5},{"i":172,"r":32.3},{"i":173,"r":27},{"i":174,"r":31},{"i":175,"r":40.1},{"i":176,"r":32.5},{"i":177,"r":40.5},{"i":178,"r":36.8},{"i":179,"r":40.1},{"i":180,"r":40.3},{"i":182,"r":36.3},{"i":183,"r":41.8},{"i":184,"r":52.3},{"i":185,"r":41.4},{"i":187,"r":48.5},{"i":188,"r":44.5},{"i":189,"r":44.4},{"i":190,"r":51.3},{"i":191,"r":51.2},{"i":192,"r":45.4},{"i":193,"r":51.7},{"i":195,"r":55},{"i":196,"r":60.8},{"i":197,"r":50},{"i":198,"r":48.1},{"i":199,"r":46.5},{"i":201,"r":45.7},{"i":204,"r":45.7},{"i":205,"r":45.4},{"i":206,"r":47.3},{"i":207,"r":45.3},{"i":209,"r":34.1},{"i":210,"r":42.6},{"i":211,"r":37.1},{"i":212,"r":35.5},{"i":213,"r":34.7},{"i":214,"r":47.3},{"i":215,"r":38.3},{"i":216,"r":46.8},{"i":217,"r":46.8},{"i":218,"r":39.4},{"i":219,"r":34.7},{"i":220,"r":40.7},{"i":221,"r":48.9},{"i":222,"r":40.7},{"i":223,"r":46.2},{"i":224,"r":45},{"i":225,"r":45},{"i":227,"r":53},{"i":228,"r":59.7},{"i":229,"r":60.8},{"i":230,"r":58.3},{"i":231,"r":65.7},{"i":232,"r":69.8},{"i":233,"r":72.2},{"i":234,"r":71.9},{"i":235,"r":68.5},{"i":236,"r":60.6},{"i":237,"r":56.2},{"i":238,"r":63.3},{"i":239,"r":56.3},{"i":240,"r":59},{"i":241,"r":64.2},{"i":242,"r":66.3},{"i":244,"r":55.2},{"i":245,"r":53.5},{"i":246,"r":57.7},{"i":247,"r":57.3},{"i":248,"r":56.2},{"i":250,"r":55.1},{"i":251,"r":58.7},{"i":252,"r":57.4},{"i":253,"r":53.5},{"i":254,"r":58.6},{"i":255,"r":61.6},{"i":256,"r":62.9},{"i":258,"r":65.2},{"i":259,"r":66},{"i":260,"r":69.6},{"i":261,"r":70.7},{"i":262,"r":73.7},{"i":263,"r":78.2},{"i":265,"r":81.6},{"i":266,"r":67.7},{"i":267,"r":67.5},{"i":268,"r":72},{"i":269,"r":74.6},{"i":270,"r":65.1},{"i":271,"r":66},{"i":272,"r":63.8},{"i":273,"r":68.5},{"i":274,"r":62.5},{"i":275,"r":62.5},{"i":276,"r":61.6},{"i":277,"r":66.7},{"i":278,"r":58.5},{"i":279,"r":58.5},{"i":280,"r":56.9},{"i":281,"r":43.5},{"i":282,"r":39},{"i":283,"r":42.9},{"i":284,"r":39.1},{"i":285,"r":46.9},{"i":286,"r":40.1},{"i":287,"r":44},{"i":288,"r":47.6},{"i":289,"r":50.1},{"i":290,"r":44},{"i":291,"r":43.7},{"i":292,"r":47.3},{"i":293,"r":43},{"i":294,"r":41.7},{"i":296,"r":36.2},{"i":298,"r":32.8},{"i":299,"r":32.3},{"i":300,"r":30.4},{"i":301,"r":27.8},{"i":304,"r":25.3},{"i":305,"r":23},{"i":306,"r":22.6},{"i":307,"r":21.1},{"i":309,"r":20.6},{"i":310,"r":17.6},{"i":311,"r":25.5},{"i":312,"r":23.4},{"i":313,"r":22.2},{"i":314,"r":22.2},{"i":315,"r":32.4},{"i":316,"r":32},{"i":317,"r":29.6},{"i":318,"r":28.6},{"i":319,"r":27.3}
]},
"vconcat":[
{"width":1852,"height":820,"resolve":{"scale":{"y":"independent"}},
"encoding":{"x":{"field":"i","type":"quantitative","scale":{"domain":[-0.74,342.22],"nice":false,"zero":false},"axis":null}},
"layer":[
{"data":{"name":"cloud"},"mark":{"type":"area","opacity":1},"encoding":{"y":{"field":"t","type":"quantitative","scale":{"type":"log","domain":[9299,20744],"nice":false},"axis":{"orient":"right","title":null,"values":[20000,18000,17000,15000,14200,13400,12600,11050,9850],"format":"d","grid":false,"ticks":false,"domain":true,"domainColor":"#5f5f63","domainWidth":2,"labelColor":"#666666","labelFontSize":22,"labelFont":"Roboto","labelPadding":14,"labelOffset":1,"labelAlign":"left","labelOverlap":false}},"y2":{"field":"b"},"detail":{"field":"p"},"color":{"field":"k","type":"nominal","scale":{"domain":["g","r"],"range":["#ebf5ed","#fdecec"]},"legend":null}}},
{"data":{"values":[{"i":9.8,"e":342.22,"y":18500},{"i":78.5,"e":342.22,"y":16000},{"i":213.7,"e":342.22,"y":11500},{"i":208.5,"e":342.22,"y":10500}]},"mark":{"type":"rule","color":"#03332b","strokeWidth":4},"encoding":{"x2":{"field":"e"},"y":{"field":"y","type":"quantitative","scale":{"type":"log","domain":[9299,20744],"nice":false},"axis":null}}},
{"data":{"name":"candles"},"mark":{"type":"rule","strokeWidth":3.7},"encoding":{"y":{"field":"v","type":"quantitative","scale":{"domain":[-2,818],"nice":false,"zero":false},"axis":null},"y2":{"datum":0},"color":{"condition":{"test":"(datum.c>=datum.o&&indexof([7,8,76,168,196,229,240,242,246,289,292,315],datum.i)<0)||indexof([224,230,250,272,276,280,284,290,298,299,300,302,303,304,306,307,308,310],datum.i)>=0","value":"#8dd4c6"},"value":"#ffa6b0"}}},
{"data":{"name":"candles"},"mark":{"type":"rule","strokeWidth":2},"encoding":{"y":{"field":"h","type":"quantitative","scale":{"type":"log","domain":[9299,20744],"nice":false},"axis":null},"y2":{"field":"l"},"color":{"condition":{"test":"datum.c>=datum.o","value":"#a9ccd3"},"value":"#f6a6b0"}}},
{"data":{"name":"candles"},"mark":{"type":"rule","strokeWidth":5.4},"encoding":{"y":{"field":"o","type":"quantitative","scale":{"type":"log","domain":[9299,20744],"nice":false},"axis":null},"y2":{"field":"c"},"color":{"condition":{"test":"datum.c>=datum.o","value":"#53b987"},"value":"#ef4d5f"}}},
{"data":{"values":[{"i":-0.55,"e":342.22,"y":11500}]},"mark":{"type":"rule","color":"#ef4d5f","strokeWidth":2,"strokeDash":[2,4]},"encoding":{"x2":{"field":"e"},"y":{"field":"y","type":"quantitative","scale":{"type":"log","domain":[9299,20744],"nice":false},"axis":null}}},
{"data":{"values":[{"i":-0.46,"e":360,"y":9299}]},"mark":{"type":"rule","color":"#3c3c42","strokeWidth":3},"encoding":{"x2":{"field":"e"},"y":{"field":"y","type":"quantitative","scale":{"type":"log","domain":[9299,20744],"nice":false},"axis":null}}},
{"data":{"values":[{"i":342.22,"e":357.96,"y":18500,"k":"d"},{"i":342.22,"e":357.96,"y":16000,"k":"d"},{"i":342.22,"e":357.96,"y":11851,"k":"r"},{"i":342.22,"e":357.96,"y":11500,"k":"d"},{"i":342.22,"e":357.96,"y":10500,"k":"d"}]},"mark":{"type":"bar","height":31,"cornerRadius":4},"encoding":{"x2":{"field":"e"},"y":{"field":"y","type":"quantitative","scale":{"type":"log","domain":[9299,20744],"nice":false,"padding":0},"axis":null},"color":{"condition":{"test":"datum.k=='r'","value":"#ef4d5f"},"value":"#03332b"}}},
{"data":{"values":[{"i":344.9,"y":18500,"t":"18500"},{"i":344.9,"y":16000,"t":"16000"},{"i":344.9,"y":11851,"t":"11500"},{"i":344.9,"y":11500,"t":"11500"},{"i":344.9,"y":10500,"t":"10500"}]},"mark":{"type":"text","color":"#ffffff","fontSize":22,"font":"Roboto","align":"left","baseline":"middle","dy":1},"encoding":{"y":{"field":"y","type":"quantitative","scale":{"type":"log","domain":[9299,20744],"nice":false},"axis":null},"text":{"field":"t"}}},
{"data":{"values":[{"i":253.2,"y":17132,"t":"انجمن خبرگان سرمایه گذاری ایران"}]},"mark":{"type":"text","color":"#0c3b33","fontSize":26.4,"font":"Roboto, DejaVu Sans","align":"right","baseline":"middle"},"encoding":{"y":{"field":"y","type":"quantitative","scale":{"type":"log","domain":[9299,20744],"nice":false},"axis":null},"text":{"field":"t"}}},
{"data":{"values":[{"i":253.2,"y":16694,"t":"Amoozesh-boors.com"}]},"mark":{"type":"text","color":"#0c3b33","fontSize":28,"font":"Roboto, DejaVu Sans","align":"right","baseline":"middle"},"encoding":{"y":{"field":"y","type":"quantitative","scale":{"type":"log","domain":[9299,20744],"nice":false},"axis":null},"text":{"field":"t"}}}
]},
{"width":1852,"height":180,
"encoding":{"x":{"field":"i","type":"quantitative","scale":{"domain":[-0.74,342.22],"nice":false,"zero":false},"axis":null}},
"layer":[
{"data":{"values":[{"i":-0.74,"e":342.22,"lo":30,"hi":70}]},"mark":{"type":"rect","color":"#f0ecf9"},"encoding":{"x2":{"field":"e"},"y":{"field":"lo","type":"quantitative","scale":{"domain":[12.9,85.5],"nice":false,"zero":false},"axis":{"orient":"right","title":null,"values":[25,50,75],"format":".2f","grid":false,"ticks":false,"domain":true,"domainColor":"#5f5f63","domainWidth":2,"labelColor":"#666666","labelFontSize":22,"labelFont":"Roboto","labelPadding":14,"labelAlign":"left"}},"y2":{"field":"hi"}}},
{"data":{"values":[{"i":-0.55,"e":342.22,"y":70},{"i":-0.55,"e":342.22,"y":50},{"i":-0.55,"e":342.22,"y":30}]},"mark":{"type":"rule","color":"#787586","strokeWidth":2,"strokeDash":[11,11]},"encoding":{"x2":{"field":"e"},"y":{"field":"y","type":"quantitative"}}},
{"data":{"name":"rsi"},"mark":{"type":"line","color":"#7e57c2","strokeWidth":2,"interpolate":"linear"},"encoding":{"y":{"field":"r","type":"quantitative"}}},
{"data":{"values":[{"i":-0.5,"e":360,"y":12.9}]},"mark":{"type":"rule","color":"#4a4a50","strokeWidth":2.5},"encoding":{"x2":{"field":"e"},"y":{"field":"y","type":"quantitative"}}},
{"data":{"values":[{"i":342.22,"y":12.9,"y2":-8.5}]},"mark":{"type":"rule","color":"#5f5f63","strokeWidth":2},"encoding":{"y":{"field":"y","type":"quantitative"},"y2":{"field":"y2"}}},
{"data":{"values":[{"i":18.8,"y":3.6,"t":"1402"},{"i":254.9,"y":3.6,"t":"1403"}]},"mark":{"type":"text","color":"#4d4d4d","fontSize":22,"fontWeight":"bold","font":"Roboto","align":"center","baseline":"middle"},"encoding":{"y":{"field":"y","type":"quantitative"},"text":{"field":"t"}}},
{"data":{"values":[{"i":59.9,"y":3.6,"t":"اسفند"},{"i":97.9,"y":3.6,"t":"اردیبهشت"},{"i":134,"y":3.6,"t":"تیر"},{"i":170,"y":3.6,"t":"شهریور"},{"i":210.9,"y":3.6,"t":"آبان"},{"i":291,"y":3.6,"t":"اسفند"},{"i":329,"y":3.6,"t":"اردیبهشت"}]},"mark":{"type":"text","color":"#4d4d4d","fontSize":21,"font":"Roboto, DejaVu Sans","align":"center","baseline":"middle"},"encoding":{"y":{"field":"y","type":"quantitative"},"text":{"field":"t"}}},
{"data":{"values":[{"i":351.4,"y":1.7}]},"mark":{"type":"point","shape":"M-1,0L-0.5,-0.87L0.5,-0.87L1,0L0.5,0.87L-0.5,0.87Z","size":800,"filled":false,"stroke":"#1a2330","strokeWidth":2,"opacity":1},"encoding":{"y":{"field":"y","type":"quantitative"}}},
{"data":{"values":[{"i":351.4,"y":1.7}]},"mark":{"type":"point","shape":"circle","size":78,"filled":false,"stroke":"#1a2330","strokeWidth":2,"opacity":1},"encoding":{"y":{"field":"y","type":"quantitative"}}}
]}
]}
